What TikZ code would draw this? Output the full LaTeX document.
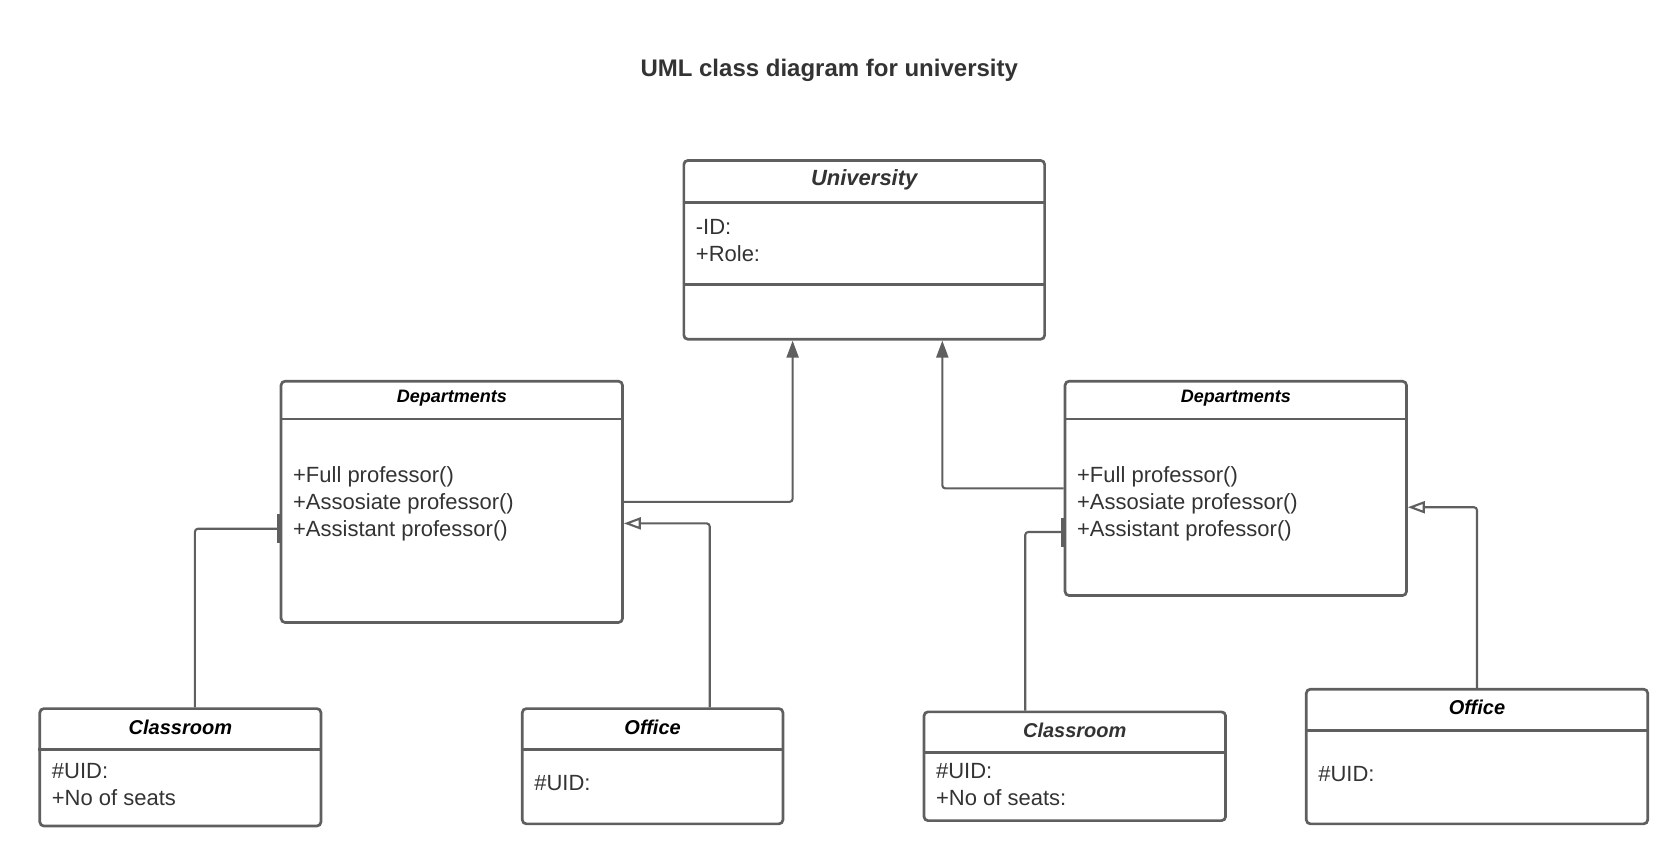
\documentclass[tikz,border=0pt]{standalone}
\usepackage{fontspec}
\setmainfont{Liberation Sans}
\usetikzlibrary{arrows.meta,fit}
\definecolor{linegray}{HTML}{5F5F5F}
\definecolor{textgray}{HTML}{333333}

\begin{document}
\begin{tikzpicture}
    [x=1.0769pt,y=-1.0769pt,
     box/.style={draw=linegray,line width=2.7pt,rounded corners=4pt,inner sep=0pt},
     sep/.style={draw=linegray,line width=2.7pt},
     head/.style={font=\fontsize{#1}{#1}\selectfont\bfseries\itshape,inner sep=0pt},
     body/.style={font=\fontsize{22}{27}\selectfont,text=textgray,align=left,anchor=west,inner sep=0pt},
     link/.style={draw=linegray,line width=2.1pt,rounded corners=3pt},
     inherit/.style={link,-{Triangle[length=17pt,width=12pt]}},
     realize/.style={link,-{Triangle[open,length=17pt,width=12pt,fill=white]}},
     owns/.style={link,-{Bar[width=29pt,line width=2.8pt]}}]
    \useasboundingbox (0,0) rectangle (1560,801.4);

    \node[font=\fontsize{24}{24}\selectfont\bfseries,text=textgray] (title) at (770,65) {UML class diagram for university};

    % classes
    \node[box,fit={(635,149) (970,315)}] (univ) {};
    \draw[sep] (univ.west |- 0,188) -- (univ.east |- 0,188);
    \draw[sep] (univ.west |- 0,264) -- (univ.east |- 0,264);
    \node[head=22,text=textgray] (univ-name) at (802.5,167) {University};
    \node[body] (univ-attr) at (646,223.5) {-ID:\\+Role:};

    \node[box,fit={(261,354) (578,578)}] (ldept) {};
    \draw[sep] (ldept.west |- 0,389) -- (ldept.east |- 0,389);
    \node[head=18] (ldept-name) at (419.5,370) {Departments};
    \node[body] (ldept-ops) at (272,468) {+Full professor()\\+Assosiate professor()\\+Assistant professor()};

    \node[box,fit={(989,354) (1306,553)}] (rdept) {};
    \draw[sep] (rdept.west |- 0,389) -- (rdept.east |- 0,389);
    \node[head=18] (rdept-name) at (1147.5,370) {Departments};
    \node[body] (rdept-ops) at (1000,468) {+Full professor()\\+Assosiate professor()\\+Assistant professor()};

    \node[box,fit={(37,658) (298,767)}] (lclass) {};
    \draw[sep] (lclass.west |- 0,696) -- (lclass.east |- 0,696);
    \node[head=20] (lclass-name) at (167.5,675) {Classroom};
    \node[body] (lclass-attr) at (48,728.5) {\#UID:\\+No of seats};

    \node[box,fit={(485,658) (727,765)}] (loffice) {};
    \draw[sep] (loffice.west |- 0,696) -- (loffice.east |- 0,696);
    \node[head=20] (loffice-name) at (606,675) {Office};
    \node[body] (loffice-attr) at (496,727) {\#UID:};

    \node[box,fit={(858,661) (1138,762)}] (rclass) {};
    \draw[sep] (rclass.west |- 0,699) -- (rclass.east |- 0,699);
    \node[head=20,text=textgray] (rclass-name) at (998,678) {Classroom};
    \node[body] (rclass-attr) at (869,728.5) {\#UID:\\+No of seats:};

    \node[box,fit={(1213,640) (1530,765)}] (roffice) {};
    \draw[sep] (roffice.west |- 0,678) -- (roffice.east |- 0,678);
    \node[head=20] (roffice-name) at (1371.5,657) {Office};
    \node[body] (roffice-attr) at (1224,719) {\#UID:};

    % connectors
    \draw[inherit] (ldept.east) -| (univ.south -| 736,0);
    \draw[inherit] (rdept.west) -| (univ.south -| 875,0);
    \draw[realize] (loffice.north -| 659,0) |- (ldept.east |- 0,486);
    \draw[realize] (roffice.north) |- (rdept.east |- 0,471);
    \draw[owns] (lclass.north -| 181,0) |- (ldept.west |- 0,491);
    \draw[owns] (rclass.north -| 952,0) |- (rdept.west |- 0,494);
\end{tikzpicture}
\end{document}
